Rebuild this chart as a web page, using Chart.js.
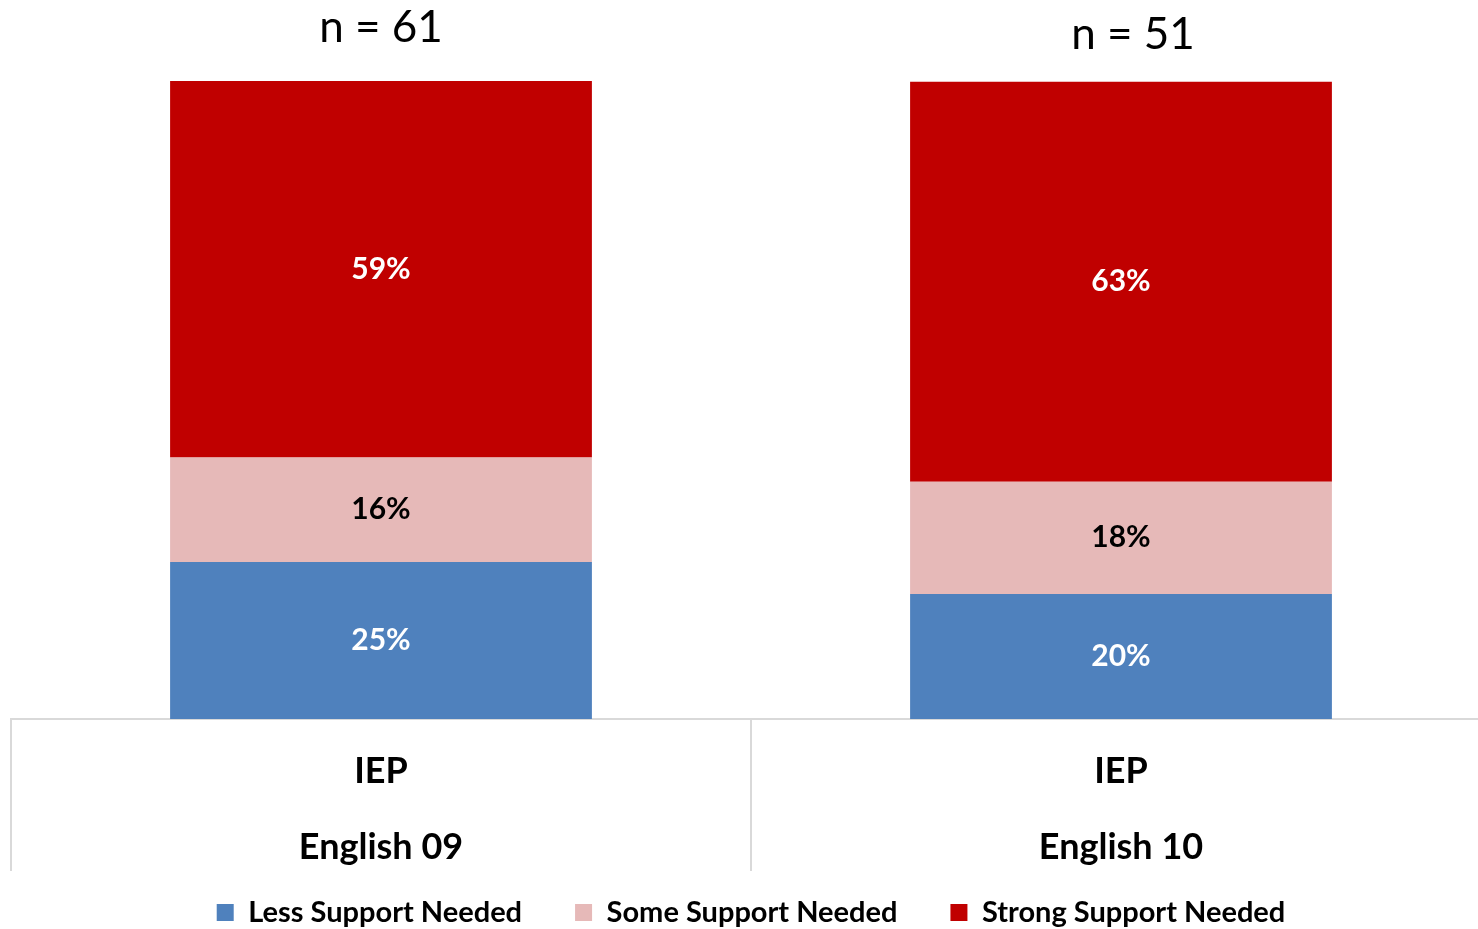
<!DOCTYPE html>
<html>
<head>
<meta charset="utf-8">
<script src="https://cdn.jsdelivr.net/npm/chart.js@4.4.1/dist/chart.umd.min.js"></script>
<style>
  html, body { margin: 0; padding: 0; background: #fff; overflow: hidden; }
  #wrap { width: 1478px; height: 929px; overflow: hidden; position: relative; }
  canvas { display: block; }
</style>
</head>
<body>
<div id="wrap"><canvas id="c" width="1491" height="929"></canvas></div>
<script>
const innerLabels = ['IEP', 'IEP'];
const outerLabels = ['English 09', 'English 10'];
const nLabels = ['n = 61', 'n = 51'];
const seriesNames = ['Less Support Needed', 'Some Support Needed', 'Strong Support Needed'];
const lessSupport = [24.6, 19.6];
const someSupport = [16.4, 17.6];
const strongSupport = [59.0, 62.7];
const lessLabels = ['25%', '20%'];
const someLabels = ['16%', '18%'];
const strongLabels = ['59%', '63%'];

const FONT = 'Lato, "Liberation Sans", sans-serif';

const barLabelPlugin = {
  id: 'barLabels',
  afterLayout(chart) {
    // let the two-level category labels extend below the (compact) axis box
    const xs = chart.scales.x;
    xs.bottom = xs.top + 175;
  },
  afterDraw(chart) {
    const ctx = chart.ctx;
    const xs = chart.scales.x;
    ctx.save();
    // category separators extending below the axis
    ctx.strokeStyle = '#d9d9d9';
    ctx.lineWidth = 2;
    const n = chart.data.labels.length;
    const step = n > 1 ? xs.getPixelForValue(1) - xs.getPixelForValue(0) : xs.width;
    for (let i = 0; i <= n; i++) {
      const x = Math.round(xs.getPixelForValue(0) - step / 2 + i * step);
      ctx.beginPath();
      ctx.moveTo(x, xs.top);
      ctx.lineTo(x, xs.top + 152);
      ctx.stroke();
    }
    ctx.textAlign = 'center';
    ctx.textBaseline = 'middle';
    ctx.font = 'bold 30px ' + FONT;
    chart.data.datasets.forEach((ds, di) => {
      const meta = chart.getDatasetMeta(di);
      meta.data.forEach((bar, i) => {
        const yMid = (bar.y + bar.base) / 2;
        ctx.fillStyle = ds.labelColor;
        ctx.fillText(ds.valueLabels[i], bar.x, yMid);
      });
    });
    // n annotations above bars (free text boxes)
    const nOffY = [53, 46];
    const nOffX = [0, 12];
    ctx.font = '44px ' + FONT;
    ctx.fillStyle = '#000';
    nLabels.forEach((t, i) => {
      ctx.fillText(t, xs.getPixelForValue(i) + nOffX[i], chart.chartArea.top - nOffY[i]);
    });
    ctx.restore();
  }
};

new Chart(document.getElementById('c'), {
  type: 'bar',
  data: {
    labels: innerLabels.map((l, i) => [l, outerLabels[i]]),
    datasets: [
      { label: seriesNames[0], data: lessSupport, backgroundColor: '#4F81BD', valueLabels: lessLabels, labelColor: '#fff' },
      { label: seriesNames[1], data: someSupport, backgroundColor: '#E6B9B8', valueLabels: someLabels, labelColor: '#000' },
      { label: seriesNames[2], data: strongSupport, backgroundColor: '#C00000', valueLabels: strongLabels, labelColor: '#fff' }
    ]
  },
  options: {
    responsive: false,
    animation: false,
    devicePixelRatio: 1,
    layout: { padding: { top: 81, left: 11, right: 0, bottom: -8 } },
    datasets: { bar: { categoryPercentage: 1, barPercentage: 0.57, borderWidth: 0 } },
    scales: {
      x: {
        stacked: true,
        offset: true,
        border: { display: true, color: '#d9d9d9', width: 2 },
        grid: { display: false, drawOnChartArea: false, drawTicks: false },
        ticks: { color: '#000', font: { family: FONT, size: 36, weight: 'bold', lineHeight: 2.11 }, padding: 14, maxRotation: 0, autoSkip: false },
        afterFit(scale) { scale.height = 126; }
      },
      y: {
        stacked: true,
        display: false,
        min: 0,
        max: 100
      }
    },
    plugins: {
      legend: {
        position: 'bottom',
        labels: { boxWidth: 17, boxHeight: 17, padding: 53, color: '#000', font: { family: FONT, size: 29, weight: 'bold' } }
      },
      tooltip: { enabled: false }
    }
  },
  plugins: [barLabelPlugin]
});
</script>
</body>
</html>
